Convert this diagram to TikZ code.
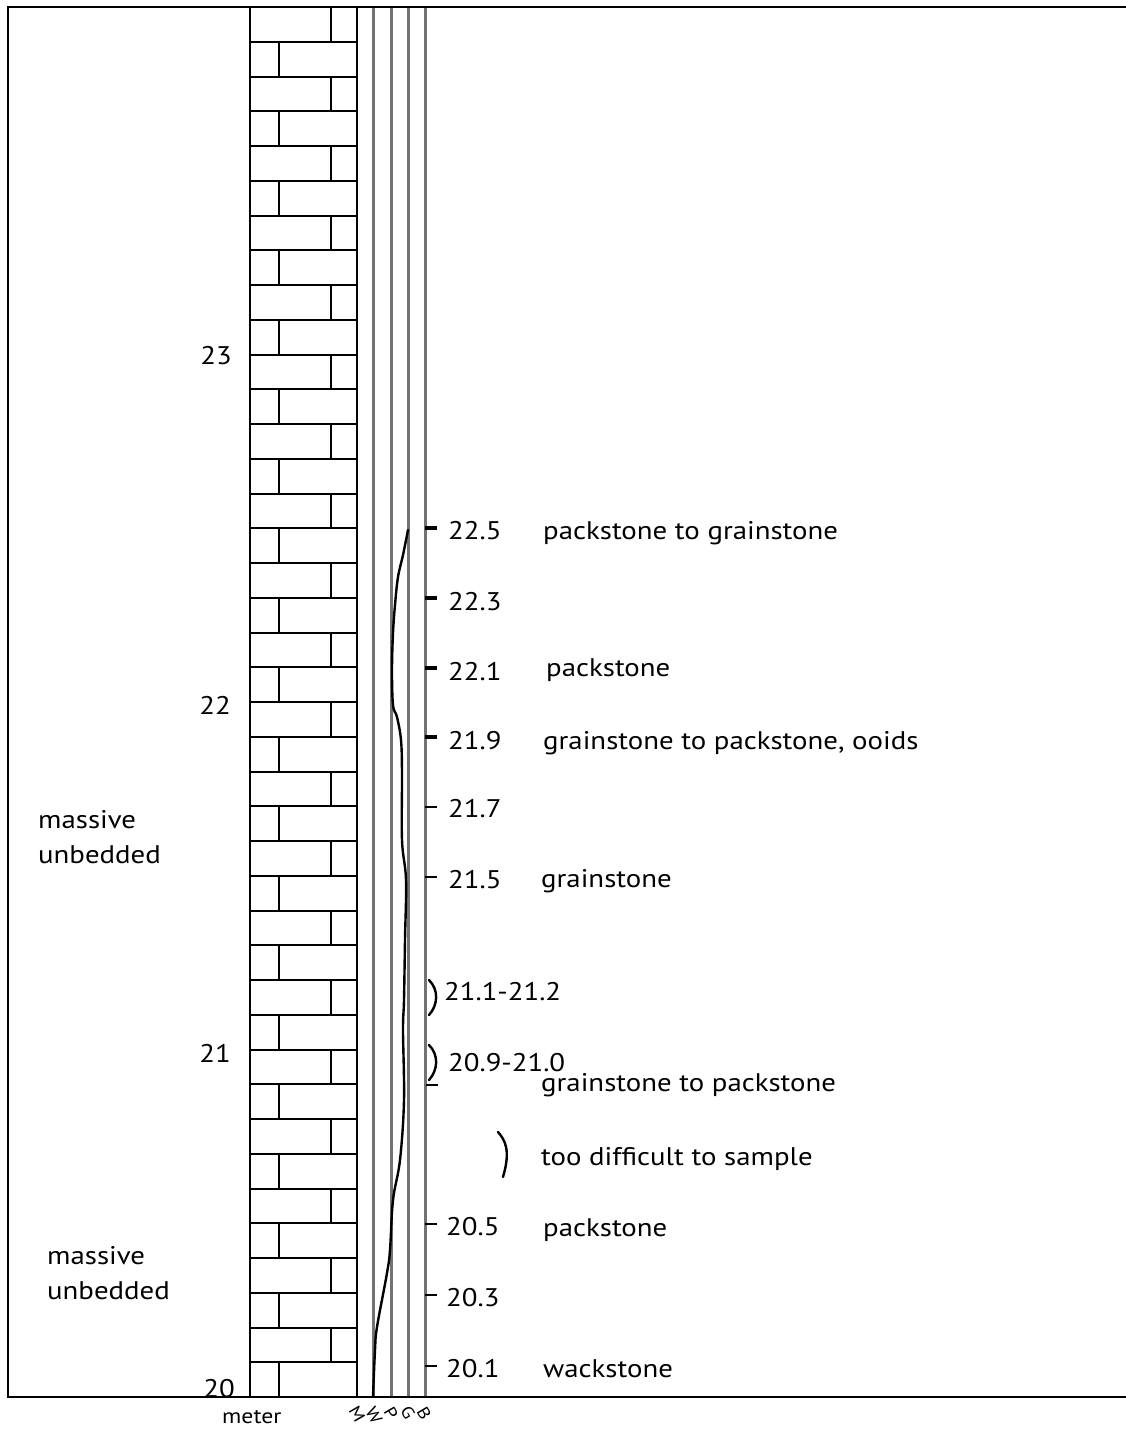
\documentclass[tikz,border=0pt]{standalone}
\usepackage{fontspec}
\setmainfont{PT Sans}[FakeStretch=1.13]
\begin{document}
\begin{tikzpicture}[x=1pt,y=-1pt,
  frame/.style={line width=2.6pt,black},
  colborder/.style={line width=2.8pt,black},
  brick/.style={line width=2pt,black},
  grainline/.style={line width=3pt,draw=grainc},
  sampletick/.style={line width=2pt,black},
  boldtick/.style={line width=4pt,black},
  lbl/.style={font=\fontsize{25.5}{30}\selectfont,inner sep=0pt,anchor=base west},
  meterlbl/.style={font=\fontsize{25.5}{30}\selectfont,inner sep=0pt,anchor=base east},
  axlbl/.style={font=\fontsize{17}{19}\selectfont,inner sep=0pt,rotate=-60},
  profile/.style={line width=2.4pt,black,line cap=round}]
\definecolor{grainc}{RGB}{115,115,115}
\useasboundingbox (0,0) rectangle (1126,1429);

% limestone brick pattern, one course per 0.1 m
\foreach \k in {0,...,39}{
  \pgfmathsetmacro{\ya}{1397-34.75*\k}
  \pgfmathsetmacro{\yb}{1397-34.75*(\k+1)}
  \pgfmathsetmacro{\xj}{ifthenelse(mod(\k,2)==0,279,331)}
  \draw[brick] (\xj,\ya) -- (\xj,\yb);
  \ifnum\k>0 \draw[brick] (251,\ya) -- (356,\ya); \fi
}
\draw[colborder] (250,7) -- (250,1397);
\draw[colborder] (357,7) -- (357,1397);

% grain-size grid lines (W, P, G, B)
\foreach \x in {373,391,408,425}{
  \draw[grainline] (\x,7) -- (\x,1397);
}

% outer frame
\draw[frame] (8,7) -- (1126,7);
\draw[frame] (8,1397) -- (1126,1397);
\draw[frame] (8,5.7) -- (8,1398.3);

% grain-size profile
\draw[profile] plot[smooth,tension=0.6] coordinates {
  (408,530) (403,555) (398,577) (395,605) (393,633) (392,670) (393,705)
  (397,717) (401,740) (402,773) (402,840) (406,880) (405,940) (404,1000)
  (403,1030) (404,1100) (400,1160) (393,1200) (390,1250) (387,1273)
  (377,1327) (375,1350) (373,1397)};

% meter labels
\node[meterlbl] (m23) at (232,364) {23};
\node[meterlbl] (m22) at (231,714) {22};
\node[meterlbl] (m21) at (231,1062) {21};
\node[meterlbl] (m20) at (235,1397) {20};
\node[font=\fontsize{21}{24}\selectfont,inner sep=0pt,anchor=base west] (unit) at (222,1423) {meter};

% grain-size axis letters
\node[axlbl] (gM) at (357,1414) {M};
\node[axlbl] (gW) at (374,1415) {W};
\node[axlbl] (gP) at (391,1413) {P};
\node[axlbl] (gG) at (408,1413) {G};
\node[axlbl] (gB) at (424,1413) {B};

% bedding notes
\node[lbl] (bed1a) at (38,828) {massive};
\node[lbl] (bed1b) at (38,863) {unbedded};
\node[lbl] (bed2a) at (47,1264) {massive};
\node[lbl] (bed2b) at (47,1299) {unbedded};

% sample ticks
\foreach \y in {528,598,668,737}{ \draw[boldtick] (425,\y) -- (437,\y); }
\foreach \y in {807,877,1224,1295,1366}{ \draw[sampletick] (425,\y) -- (437,\y); }
\draw[sampletick] (426,1085) -- (438,1085);

% interval brackets
\draw[profile] (429,980) .. controls (439,990) and (438,1005) .. (429,1015);
\draw[profile] (429,1045) .. controls (439,1055) and (438,1070) .. (429,1080);
\draw[profile] (498,1132) .. controls (505,1140) and (511,1150) .. (503,1177);

% sample numbers
\node[lbl] (s225) at (448,539) {22.5};
\node[lbl] (s223) at (448,610) {22.3};
\node[lbl] (s221) at (448,680) {22.1};
\node[lbl] (s219) at (448,749) {21.9};
\node[lbl] (s217) at (448,817) {21.7};
\node[lbl] (s215) at (448,888) {21.5};
\node[lbl] (s211) at (444,1000) {21.1-21.2};
\node[lbl] (s209) at (448,1071) {20.9-21.0};
\node[lbl] (s205) at (446,1235) {20.5};
\node[lbl] (s203) at (446,1306) {20.3};
\node[lbl] (s201) at (446,1377) {20.1};

% lithology descriptions
\node[lbl] (d225) at (543,539) {packstone to grainstone};
\node[lbl] (d221) at (546,676) {packstone};
\node[lbl] (d219) at (543,749) {grainstone to packstone, ooids};
\node[lbl] (d215) at (541,887) {grainstone};
\node[lbl] (d209) at (541,1091) {grainstone to packstone};
\node[lbl] (dns) at (541,1165) {too difficult to sample};
\node[lbl] (d205) at (543,1236) {packstone};
\node[lbl] (d201) at (543,1377) {wackstone};
\end{tikzpicture}
\end{document}
